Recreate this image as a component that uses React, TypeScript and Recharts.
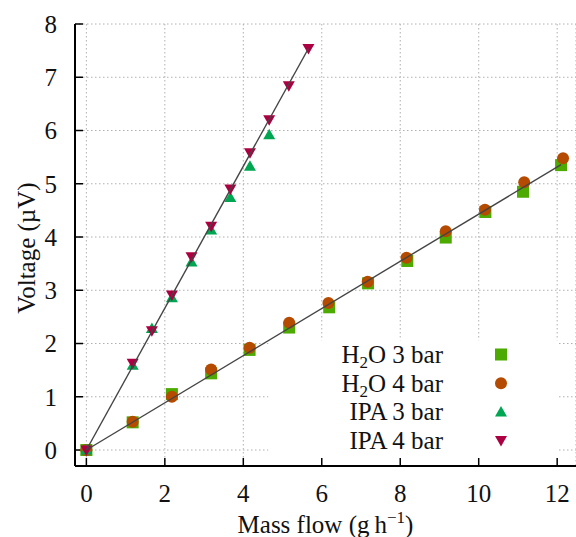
import {
  CartesianGrid,
  Legend,
  ReferenceArea,
  Scatter,
  ScatterChart,
  XAxis,
  YAxis,
} from "recharts";

const flowTicks = [0, 2, 4, 6, 8, 10, 12];
const voltageTicks = [0, 1, 2, 3, 4, 5, 6, 7, 8];

const h2o3Flow = [0, 1.18, 2.18, 3.18, 4.16, 5.17, 6.19, 7.18, 8.18, 9.16, 10.17, 11.13, 12.1];
const h2o3Voltage = [0, 0.52, 1.05, 1.44, 1.88, 2.3, 2.68, 3.13, 3.55, 3.99, 4.47, 4.85, 5.35];
const h2o4Flow = [0, 1.18, 2.18, 3.18, 4.16, 5.17, 6.17, 7.17, 8.16, 9.16, 10.16, 11.16, 12.15];
const h2o4Voltage = [0, 0.53, 1.0, 1.51, 1.92, 2.39, 2.76, 3.16, 3.61, 4.11, 4.51, 5.03, 5.48];
const ipa3Flow = [0, 1.18, 1.67, 2.18, 2.68, 3.18, 3.67, 4.17, 4.66];
const ipa3Voltage = [0, 1.59, 2.28, 2.86, 3.53, 4.13, 4.74, 5.33, 5.92];
const ipa4Flow = [0, 1.18, 1.67, 2.18, 2.68, 3.18, 3.67, 4.17, 4.66, 5.16, 5.66];
const ipa4Voltage = [0, 1.63, 2.24, 2.91, 3.63, 4.2, 4.9, 5.58, 6.2, 6.84, 7.54];

// fitted lines, end points
const h2oFitFlow = [0, 12.1];
const h2oFitVoltage = [0, 5.36];
const ipaFitFlow = [0, 5.66];
const ipaFitVoltage = [0, 7.54];

const font = "'Liberation Serif', 'Times New Roman', serif";

type MarkerKind = "square" | "circle" | "triangle" | "triangleDown";

const toPoints = (xs: number[], ys: number[]) => xs.map((x, i) => ({ x, y: ys[i] }));

const series: { name: string; color: string; marker: MarkerKind; data: { x: number; y: number }[] }[] = [
  { name: "H2O 3 bar", color: "#4caa00", marker: "square", data: toPoints(h2o3Flow, h2o3Voltage) },
  { name: "H2O 4 bar", color: "#b44b00", marker: "circle", data: toPoints(h2o4Flow, h2o4Voltage) },
  { name: "IPA 3 bar", color: "#00a651", marker: "triangle", data: toPoints(ipa3Flow, ipa3Voltage) },
  { name: "IPA 4 bar", color: "#ab0041", marker: "triangleDown", data: toPoints(ipa4Flow, ipa4Voltage) },
];

function Marker({ kind, cx, cy, fill }: { kind: MarkerKind; cx: number; cy: number; fill: string }) {
  if (kind === "square") return <rect x={cx - 6} y={cy - 6} width={12} height={12} fill={fill} />;
  if (kind === "circle") return <circle cx={cx} cy={cy} r={6} fill={fill} />;
  if (kind === "triangle")
    return <polygon points={`${cx},${cy - 6} ${cx + 6},${cy + 4.5} ${cx - 6},${cy + 4.5}`} fill={fill} />;
  return <polygon points={`${cx - 6},${cy - 4.5} ${cx + 6},${cy - 4.5} ${cx},${cy + 6}`} fill={fill} />;
}

function SeriesLabel({ name, x, y }: { name: string; x: number; y: number }) {
  const text = (
    <text x={x} y={y} textAnchor="end" fontFamily={font} fontSize={25} fill="#111">
      {name.startsWith("H2O") ? (
        <>
          H<tspan fontSize={17} dy={5}>2</tspan>
          <tspan dy={-5}>O{name.slice(3)}</tspan>
        </>
      ) : (
        name
      )}
    </text>
  );
  return text;
}

function KeyBox({ payload }: any) {
  const items = (payload || []).filter((p: any) => p.type !== "none");
  return (
    <svg width={290} height={126} style={{ display: "block" }}>
      {items.map((item: any, i: number) => {
        const s = series.find((d) => d.name === item.value);
        const base = 23 + i * 28.7;
        return (
          <g key={item.value}>
            <SeriesLabel name={item.value} x={175} y={base} />
            <Marker kind={s ? s.marker : "square"} cx={233} cy={base - 8.5} fill={item.color} />
          </g>
        );
      })}
    </svg>
  );
}

const axisLine = { stroke: "#000", strokeWidth: 2 };
const tickLine = { stroke: "#000", strokeWidth: 1.5 };
const tickText = { fill: "#111", fontSize: 25, fontFamily: font };

export default function App() {
  return (
    <div style={{ position: "absolute", left: 0, top: 0, width: 576, height: 537, background: "#fff" }}>
      <ScatterChart width={576} height={537} margin={{ top: 24, right: 0, bottom: 31, left: 15 }}>
        <CartesianGrid stroke="#b0b0b0" strokeDasharray="1.5 2.5" strokeWidth={1} />
        <ReferenceArea x1={4.64} x2={12.04} y1={-0.3} y2={2.06} fill="#fff" fillOpacity={1} stroke="none" />
        <XAxis
          type="number"
          dataKey="x"
          domain={[-0.29, 12.48]}
          ticks={flowTicks}
          allowDataOverflow
          height={40}
          tickSize={-8}
          tickMargin={26}
          axisLine={axisLine}
          tickLine={tickLine}
          tick={tickText}
          label={{
            content: (props: any) => {
              const vb = props.viewBox || { x: 75, y: 466, width: 501 };
              return (
                <text x={vb.x + vb.width / 2} y={vb.y + 67} textAnchor="middle" fontFamily={font} fontSize={25} fill="#111">
                  Mass flow (g{"\u2009"}h
                  <tspan fontSize={17} dy={-10}>−1</tspan>
                  <tspan dy={10}>)</tspan>
                </text>
              );
            },
          }}
        />
        <XAxis
          xAxisId="top"
          orientation="top"
          type="number"
          dataKey="x"
          domain={[-0.29, 12.48]}
          ticks={flowTicks}
          allowDataOverflow
          height={0}
          tickSize={-8}
          axisLine={axisLine}
          tickLine={tickLine}
          tickFormatter={() => ""}
        />
        <YAxis
          type="number"
          dataKey="y"
          domain={[-0.3, 8]}
          ticks={voltageTicks}
          allowDataOverflow
          width={60}
          tickSize={-8}
          tickMargin={26}
          axisLine={axisLine}
          tickLine={tickLine}
          tick={tickText}
          label={{
            content: (props: any) => {
              const vb = props.viewBox || { x: 15, y: 24, height: 442 };
              const x = vb.x + 20;
              const y = vb.y + vb.height / 2 + 3;
              return (
                <text x={x} y={y} transform={`rotate(-90, ${x}, ${y})`} textAnchor="middle" fontFamily={font} fontSize={25} fill="#111">
                  Voltage (µV)
                </text>
              );
            },
          }}
        />
        <YAxis
          yAxisId="right"
          orientation="right"
          type="number"
          dataKey="y"
          domain={[-0.3, 8]}
          ticks={voltageTicks}
          allowDataOverflow
          width={0}
          tickSize={-8}
          axisLine={axisLine}
          tickLine={tickLine}
          tickFormatter={() => ""}
        />
        {series.map((s) => (
          <Scatter
            key={s.name}
            name={s.name}
            data={s.data}
            fill={s.color}
            isAnimationActive={false}
            shape={(p: any) => <Marker kind={s.marker} cx={p.cx} cy={p.cy} fill={s.color} />}
          />
        ))}
        <Scatter
          name="H2O fit"
          data={toPoints(h2oFitFlow, h2oFitVoltage)}
          legendType="none"
          line={{ stroke: "#444", strokeWidth: 1.4 }}
          shape={() => <g />}
          isAnimationActive={false}
        />
        <Scatter
          name="IPA fit"
          data={toPoints(ipaFitFlow, ipaFitVoltage)}
          legendType="none"
          line={{ stroke: "#444", strokeWidth: 1.4 }}
          shape={() => <g />}
          isAnimationActive={false}
        />
        <Legend
          layout="vertical"
          align="center"
          verticalAlign="middle"
          content={KeyBox}
          wrapperStyle={{ left: 268, top: 340, width: 290, height: 126 }}
        />
      </ScatterChart>
    </div>
  );
}
